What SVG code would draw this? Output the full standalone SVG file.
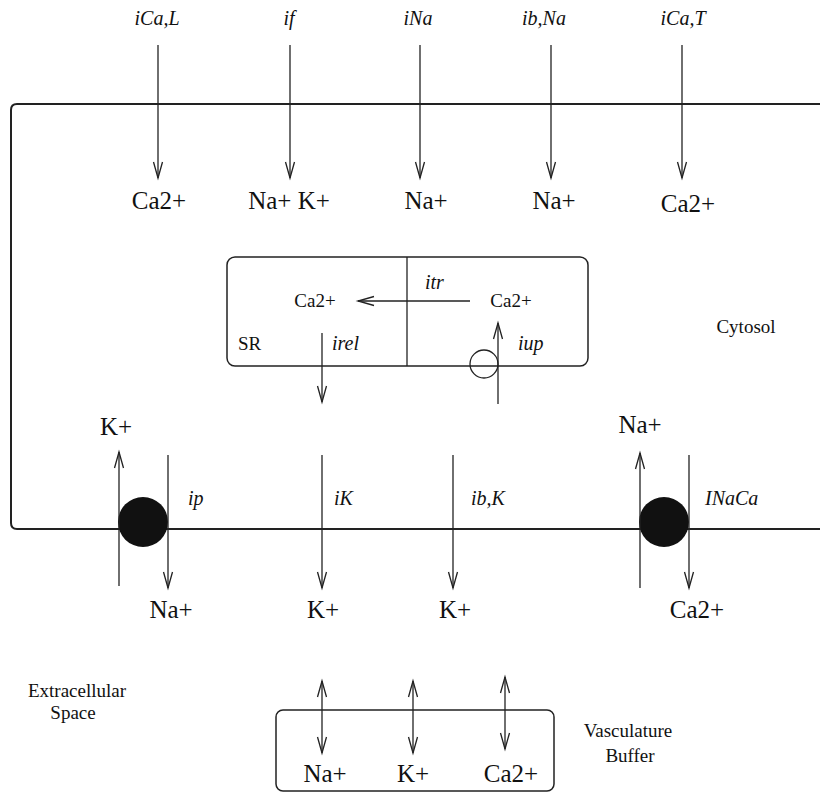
<svg xmlns="http://www.w3.org/2000/svg" width="820" height="792" viewBox="0 0 820 792">
<defs>
<style>
.ln{stroke:#222;stroke-width:1.3;fill:none}
.mem{stroke:#222;stroke-width:2;fill:none}
.box{stroke:#222;stroke-width:1.5;fill:none}
.ion{font-family:"Liberation Serif","Times New Roman",serif;font-size:25px;fill:#111;text-anchor:middle}
.sm{font-family:"Liberation Serif","Times New Roman",serif;font-size:19px;fill:#111}
.it{font-family:"Liberation Serif","Times New Roman",serif;font-size:20px;font-style:italic;fill:#111}
.mid{text-anchor:middle}
</style>
<marker id="ah" markerUnits="userSpaceOnUse" markerWidth="20" markerHeight="12" viewBox="-17 -6 20 12" refX="0" refY="0" orient="auto-start-reverse">
<path d="M-16,-4.5 L0,0 L-16,4.5" fill="none" stroke="#222" stroke-width="1.3"/>
</marker>
</defs>
<rect width="820" height="792" fill="#fff"/>

<g id="membrane">
<path class="mem" d="M820,104 H17 Q11,104 11,110 V523 Q11,529 17,529 H820"/>
</g>

<g id="sr">
<rect class="box" x="227" y="257" width="361" height="109" rx="8"/>
<line class="ln" x1="407" y1="257" x2="407" y2="366"/>
<text class="sm" x="238" y="350">SR</text>
<text class="sm mid" x="315" y="307">Ca2+</text>
<text class="sm mid" x="511" y="307">Ca2+</text>
<circle class="ln" cx="484" cy="364" r="14"/>
</g>

<g id="pump-p"><circle cx="143" cy="522" r="25" fill="#111"/></g>
<g id="pump-naca"><circle cx="664" cy="522" r="25" fill="#111"/></g>

<g id="vasculature">
<rect class="box" x="276" y="710" width="278" height="81" rx="7"/>
<text class="ion" x="325" y="782">Na+</text>
<text class="ion" x="413" y="782">K+</text>
<text class="ion" x="511" y="782">Ca2+</text>
</g>

<g id="connectors">
<line class="ln" x1="158" y1="45" x2="158" y2="178" marker-end="url(#ah)"/>
<line class="ln" x1="290" y1="45" x2="290" y2="178" marker-end="url(#ah)"/>
<line class="ln" x1="420" y1="45" x2="420" y2="178" marker-end="url(#ah)"/>
<line class="ln" x1="551" y1="45" x2="551" y2="178" marker-end="url(#ah)"/>
<line class="ln" x1="682" y1="45" x2="682" y2="178" marker-end="url(#ah)"/>
<line class="ln" x1="470" y1="301" x2="358" y2="301" marker-end="url(#ah)"/>
<line class="ln" x1="322" y1="333" x2="322" y2="402" marker-end="url(#ah)"/>
<line class="ln" x1="498" y1="404" x2="498" y2="323" marker-end="url(#ah)"/>
<line class="ln" x1="119" y1="586" x2="119" y2="452" marker-end="url(#ah)"/>
<line class="ln" x1="168" y1="455" x2="168" y2="588" marker-end="url(#ah)"/>
<line class="ln" x1="322" y1="455" x2="322" y2="588" marker-end="url(#ah)"/>
<line class="ln" x1="453" y1="455" x2="453" y2="588" marker-end="url(#ah)"/>
<line class="ln" x1="640" y1="588" x2="640" y2="453" marker-end="url(#ah)"/>
<line class="ln" x1="689" y1="455" x2="689" y2="588" marker-end="url(#ah)"/>
<line class="ln" x1="322" y1="681" x2="322" y2="753" marker-start="url(#ah)" marker-end="url(#ah)"/>
<line class="ln" x1="413" y1="681" x2="413" y2="753" marker-start="url(#ah)" marker-end="url(#ah)"/>
<line class="ln" x1="505" y1="677" x2="505" y2="749" marker-start="url(#ah)" marker-end="url(#ah)"/>
</g>

<g id="current-labels">
<text class="it mid" x="157" y="25">iCa,L</text>
<text class="it mid" x="289" y="25">if</text>
<text class="it mid" x="418" y="25">iNa</text>
<text class="it mid" x="544" y="25">ib,Na</text>
<text class="it mid" x="683" y="25">iCa,T</text>
<text class="it" x="425" y="289">itr</text>
<text class="it" x="332" y="350">irel</text>
<text class="it" x="518" y="350">iup</text>
<text class="it" x="188" y="505">ip</text>
<text class="it" x="334" y="505">iK</text>
<text class="it" x="471" y="505">ib,K</text>
<text class="it" x="705" y="505">INaCa</text>
</g>

<g id="ion-labels">
<text class="ion" x="159" y="209">Ca2+</text>
<text class="ion" x="289" y="209">Na+ K+</text>
<text class="ion" x="426" y="209">Na+</text>
<text class="ion" x="554" y="209">Na+</text>
<text class="ion" x="688" y="212">Ca2+</text>
<text class="ion" x="116" y="435">K+</text>
<text class="ion" x="640" y="433">Na+</text>
<text class="ion" x="171" y="618">Na+</text>
<text class="ion" x="323" y="618">K+</text>
<text class="ion" x="455" y="618">K+</text>
<text class="ion" x="697" y="618">Ca2+</text>
</g>

<g id="region-labels">
<text class="sm mid" x="746" y="333">Cytosol</text>
<text class="sm mid" x="77" y="697">Extracellular</text>
<text class="sm mid" x="73" y="719">Space</text>
<text class="sm mid" x="628" y="737">Vasculature</text>
<text class="sm mid" x="630" y="762">Buffer</text>
</g>
</svg>
